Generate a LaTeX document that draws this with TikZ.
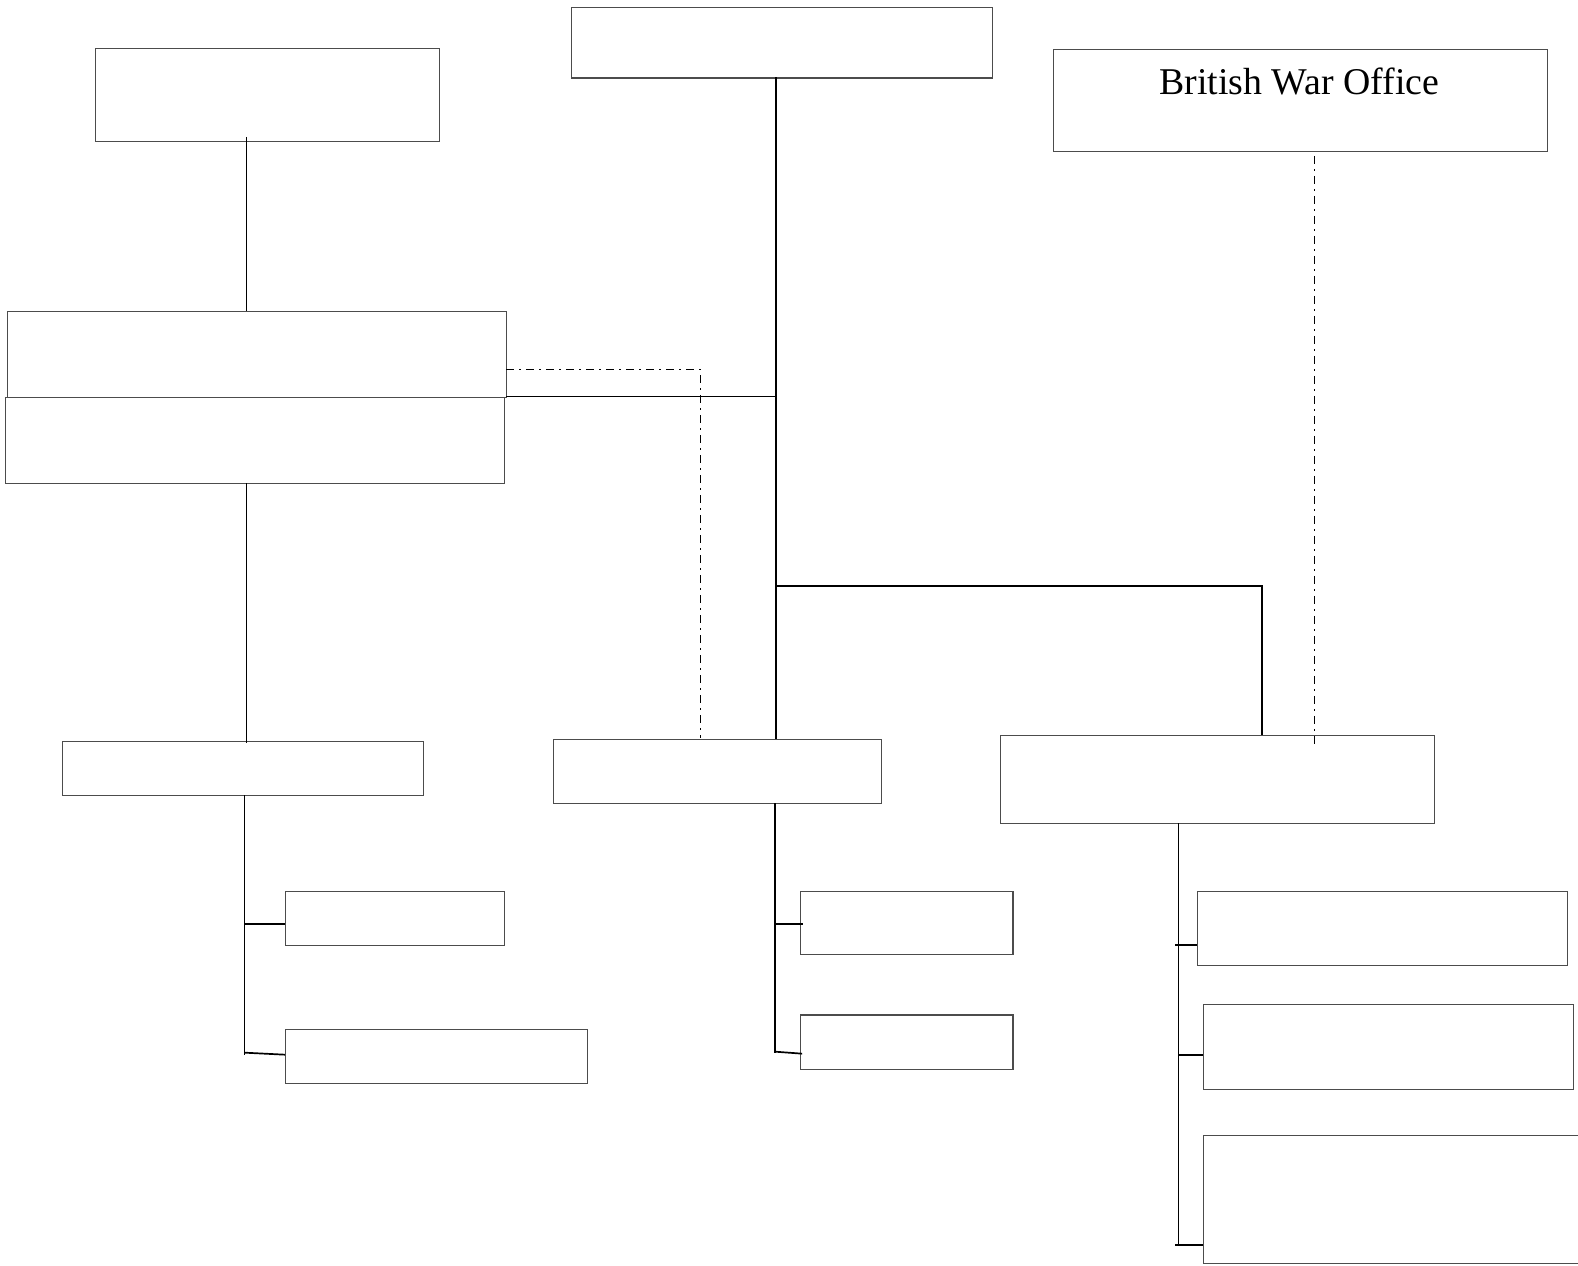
\documentclass[tikz,border=0pt]{standalone}
\usepackage{fontspec}
\setmainfont{Liberation Serif}
\begin{document}
\begin{tikzpicture}[x=0.5032pt,y=-0.5032pt,
  box/.style={draw=black!70,line width=0.55pt,rectangle,inner sep=0pt,anchor=north west},
  conn/.style={draw=black,line width=0.85pt},
  dd/.style={draw=black,line width=0.7pt,dash pattern=on 4pt off 2.5pt on 1pt off 2.5pt}]
\useasboundingbox (0,0) rectangle (1568,1257);
\newcommand\bx[5]{\node[box,minimum width=#4*0.5032pt,minimum height=#5*0.5032pt] (#1) at (#2,#3) {};}
\bx{tl}{94}{48}{342}{92}
\bx{tc}{567}{7}{419}{70}
\bx{bwo}{1046}{49}{491}{101}
\node[font=\fontsize{18.9}{22}\selectfont,inner sep=0pt] (bwot) at (1291,81) {British War Office};
\bx{mlu}{7}{309}{496}{85}
\bx{mll}{5}{394}{496}{86}
\bx{bl}{62}{736}{358}{54}
\bx{bc}{549}{734}{326}{64}
\bx{br}{994}{730}{431}{88}
\bx{ls1}{283}{885}{218}{54}
\bx{ls2}{283}{1022}{300}{54}
\bx{cs1}{795}{885}{211}{63}
\bx{cs2}{795}{1008}{211}{54}
\bx{rs1}{1189}{885}{368}{74}
\bx{rs2}{1195}{998}{368}{84}
\bx{rs3}{1195}{1128}{373}{127}
% top-left to mid
\coordinate (a1) at (245,136);
\draw[conn] (a1) -- (a1 |- mlu.north);
% top center trunk
\coordinate (t0) at (771,77);
\draw[conn] (t0) -- (771,734);
\coordinate (j1) at (503,394);
\draw[conn] (j1) -- (771,394);
\draw[conn] (771,582) -- (1254,582) -- (1254,730);
% dash-dot
\draw[dd] (503,367) -- (696,367) -- (696,733);
\draw[dd] (1306,155) -- (1306,739);
% mid-left lower to bottom-left
\draw[conn] (245,480) -- (245,738);
% bottom-left subtree
\draw[conn] (243,790) -- (243,1048);
\draw[conn] (243,918) -- (283,918);
\draw[conn] (243,1046) -- (283,1048);
% bottom-center subtree
\draw[conn] (770,798) -- (770,1046);
\draw[conn] (770,918) -- (798,918);
\draw[conn] (770,1045) -- (797,1047);
% bottom-right subtree
\draw[conn] (1171,818) -- (1171,1237);
\draw[conn] (1168,939) -- (1189,939);
\draw[conn] (1171,1048) -- (1195,1048);
\draw[conn] (1168,1237) -- (1195,1237);
\end{tikzpicture}
\end{document}
